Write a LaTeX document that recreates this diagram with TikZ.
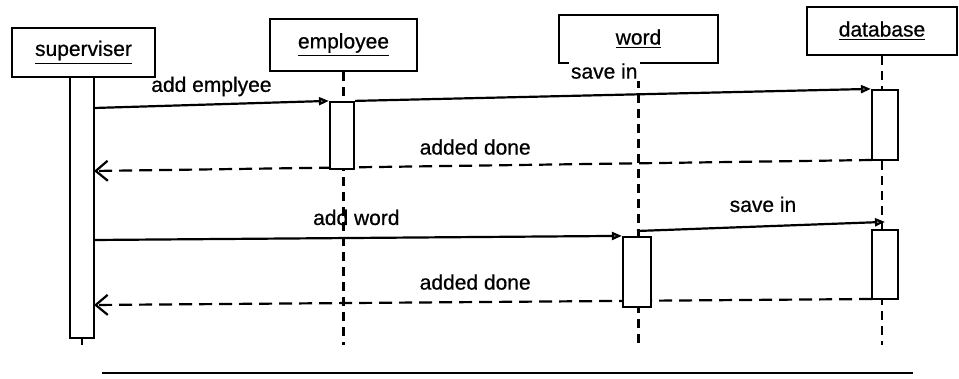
\documentclass[tikz,border=0pt]{standalone}
\usepackage{fontspec}
\setmainfont{Liberation Sans}
\newfontfamily\labelfont[FakeBold=0.6]{Liberation Sans}
\usetikzlibrary{arrows.meta}
\begin{document}
\begin{tikzpicture}[x=0.5pt,y=-0.5pt,
  head/.style={draw,line width=1.1pt,inner sep=0pt,font=\labelfont\fontsize{10.5}{12}\selectfont},
  bar/.style={draw,fill=white,line width=1.1pt,inner sep=0pt,minimum width=12pt},
  lifeline/.style={line width=1.1pt,dash pattern=on 4.5pt off 3pt},
  msg/.style={line width=1.1pt,-{Triangle[length=5pt,width=4pt,fill=gray!60]}},
  reply/.style={line width=1.1pt,dash pattern=on 6.5pt off 3.5pt,-{Straight Barb[length=6pt,width=10pt]}},
  lbl/.style={font=\labelfont\fontsize{10.5}{12}\selectfont,inner sep=1pt}]
\useasboundingbox (0,0) rectangle (959,379);

% object heads
\node[head,minimum width=71.5pt,minimum height=24.5pt] (sup) at (83.5,52.5) {\underline{superviser}};
\node[head,minimum width=73.5pt,minimum height=26pt] (emp) at (343.5,45) {\underline{employee}};
\node[head,minimum width=79.5pt,minimum height=24pt] (word) at (638.5,39) {\underline{word}};
\node[head,minimum width=75pt,minimum height=24pt] (db) at (882,31) {\underline{database}};

% lifelines
\coordinate (end) at (0,345);
\draw[lifeline] (emp.south) -- (emp.south |- end);
\draw[lifeline] (word.south) -- (word.south |- end);
\draw[lifeline] (db.south) -- (db.south |- end);

% message anchors on the supervisor bar
\coordinate (m1s) at (94,108);
\coordinate (r1e) at (94,171);
\coordinate (m3s) at (94,240);
\coordinate (r2e) at (94,305);
\coordinate (m4s) at (637,231);

% activation bar centres
\path (82,207.5) coordinate (saC) (342,135.5) coordinate (eaC)
      (637,272) coordinate (waC) (885,125) coordinate (da1C) (885,264.5) coordinate (da2C);

% return messages (drawn first so the bars hide them)
\coordinate (da1sw) at (872,160);
\coordinate (da2sw) at (872,299);
\draw[reply] (da1sw) -- node[lbl,pos=0.51,yshift=9.3pt] {added done} (r1e);
\draw[reply] (da2sw) -- node[lbl,pos=0.51,yshift=10pt] {added done} (r2e);

% activations
\node[bar,minimum height=130.5pt] (sa) at (saC) {};
\draw[line width=1.1pt] (sa.south) -- (sa.south |- end);
\node[bar,minimum height=33.5pt] (ea) at (eaC) {};
\node[bar,minimum width=14pt,minimum height=35pt] (wa) at (waC) {};
\node[bar,minimum width=13pt,minimum height=35pt] (da1) at (da1C) {};
\node[bar,minimum width=13pt,minimum height=34.5pt] (da2) at (da2C) {};

% calls
\draw[msg] (m1s) -- node[lbl,pos=0.5,yshift=9pt] {add emplyee} (ea.north west);
\draw[msg] (ea.north east) -- node[lbl,pos=0.483,yshift=12pt,fill=white] {save in} (da1.north west);
\draw[msg] (m3s) -- node[lbl,pos=0.497,yshift=10.25pt] {add word} (wa.north west);
\draw[msg] (m4s) -- node[lbl,pos=0.508,yshift=11pt] {save in} ([yshift=3.5pt]da2.north);

% base rule
\coordinate (baseL) at (102,373);
\coordinate (baseR) at (913,373);
\draw[line width=1.4pt] (baseL) -- (baseR);
\end{tikzpicture}
\end{document}
